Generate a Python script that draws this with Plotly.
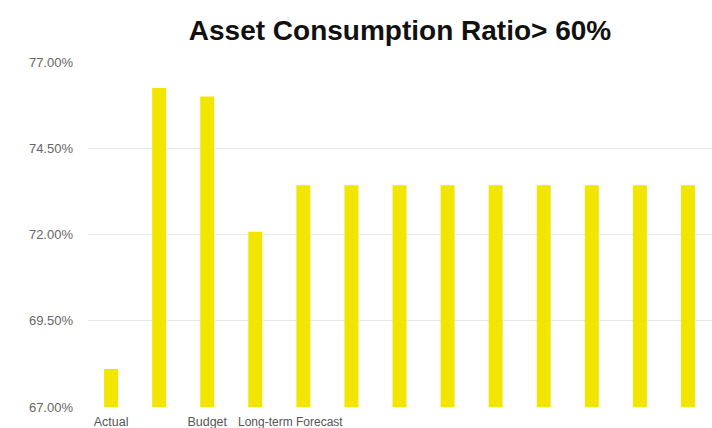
import plotly.graph_objects as go

# Asset consumption ratio by period (percent)
periods = list(range(13))
ratios = [68.10, 76.25, 76.00, 72.08, 73.43, 73.43, 73.43, 73.43, 73.43, 73.43, 73.43, 73.43, 73.43]
period_labels = ["Actual", "", "Budget", "", "", "", "", "", "", "", "", "", ""]
y_ticks = [67.0, 69.5, 72.0, 74.5, 77.0]
y_tick_labels = [f"{v:.2f}%" for v in y_ticks]

fig = go.Figure(
    go.Bar(
        x=periods,
        y=ratios,
        width=0.29,
        marker=dict(color="#F2E500", line=dict(width=0)),
        hoverinfo="y",
    )
)

fig.update_layout(
    width=712,
    height=428,
    margin=dict(l=88, r=0, t=62, b=21),
    paper_bgcolor="white",
    plot_bgcolor="white",
    showlegend=False,
    title=dict(
        text="<b>Asset Consumption Ratio> 60%</b>",
        font=dict(family="Liberation Sans, Arial, sans-serif", size=28, color="#111111"),
        x=0.5,
        xref="paper",
        xanchor="center",
        y=0.93,
        yanchor="middle",
    ),
    font=dict(family="Liberation Sans, Arial, sans-serif", color="#666666"),
)

fig.update_xaxes(
    range=[-0.48, 12.5],
    tickmode="array",
    tickvals=periods,
    ticktext=period_labels,
    ticks="",
    showgrid=False,
    zeroline=False,
    showline=False,
    tickfont=dict(size=12.5, color="#555555"),
    ticklabelstandoff=5,
)

fig.update_yaxes(
    range=[67.0, 77.0],
    tickmode="array",
    tickvals=y_ticks,
    ticktext=y_tick_labels,
    ticks="",
    showgrid=True,
    gridcolor="#E8E8E8",
    gridwidth=1,
    zeroline=False,
    showline=False,
    tickfont=dict(size=13, color="#666666"),
    ticklabelstandoff=14,
)

fig.add_annotation(
    text="Long-term Forecast",
    x=3.73,
    y=0,
    xref="x",
    yref="paper",
    yanchor="top",
    xanchor="center",
    yshift=-6,
    showarrow=False,
    font=dict(size=12, color="#555555"),
)

fig.write_html("out.html")
